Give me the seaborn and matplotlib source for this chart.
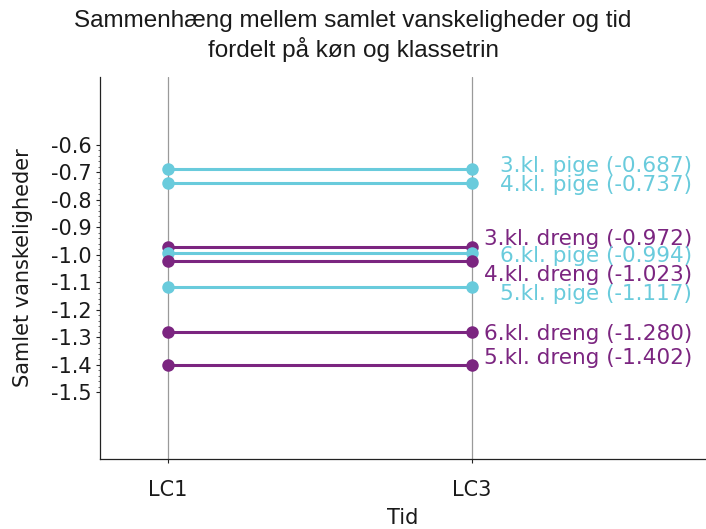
import matplotlib
matplotlib.use("Agg")
import matplotlib.pyplot as plt
import seaborn as sns
import pandas as pd
import numpy as np
from matplotlib.ticker import FixedLocator

groups = ["3.kl. pige", "4.kl. pige", "3.kl. dreng", "6.kl. pige",
          "4.kl. dreng", "5.kl. pige", "6.kl. dreng", "5.kl. dreng"]
gender = ["pige", "pige", "dreng", "pige", "dreng", "pige", "dreng", "dreng"]
lc1 = [-0.687, -0.737, -0.972, -0.994, -1.023, -1.117, -1.280, -1.402]
lc3 = [-0.687, -0.737, -0.972, -0.994, -1.023, -1.117, -1.280, -1.402]
times = ["LC1", "LC3"]
yticks = [-0.6, -0.7, -0.8, -0.9, -1.0, -1.1, -1.2, -1.3, -1.4, -1.5]
# label nudges (pixels, + = down) to avoid overlap
nudge_px = [-3, 2, -8, 3, 14, 7, 2, -7]

colors = {"pige": "#69CBDC", "dreng": "#7B2580"}

rows = []
for g, s, a, b in zip(groups, gender, lc1, lc3):
    rows.append({"Tid": times[0], "value": a, "group": g, "gender": s})
    rows.append({"Tid": times[1], "value": b, "group": g, "gender": s})
df = pd.DataFrame(rows)

sns.set_style("white")
plt.rcParams["font.family"] = ["DejaVu Sans"]

fig = plt.figure(figsize=(7.06, 5.29), dpi=100)
ax = fig.add_axes([100/706, 70/529, 606/706, 382/529])

pal = {g: colors[s] for g, s in zip(groups, gender)}
sns.lineplot(data=df, x="Tid", y="value", hue="group", palette=pal,
             marker="o", markersize=9, markeredgewidth=0, linewidth=2.2,
             legend=False, ax=ax, zorder=3)

ax.set_xlim(-0.224, 1.77)
ax.set_ylim(-1.742, -0.353)
ax.set_yticks(yticks)
ax.set_yticklabels([f"{t:.1f}" for t in yticks])
ax.yaxis.set_minor_locator(FixedLocator(np.round(np.arange(-1.5, -0.599, 0.02), 3)))
ax.tick_params(axis="y", which="major", direction="out", length=3, width=0.8,
               labelsize=15, left=True, pad=3, colors="#222222")
ax.tick_params(axis="y", which="minor", direction="out", length=1.5, width=0.6,
               left=True, colors="#555555")
ax.tick_params(axis="x", which="major", direction="out", length=3, width=0.8,
               labelsize=15, bottom=True, pad=12, colors="#222222")
for t in ax.get_xticklabels() + ax.get_yticklabels():
    t.set_color("#1a1a1a")

ax.grid(False)
for xv in range(len(times)):
    ax.axvline(xv, color="#9a9a9a", lw=0.9, zorder=1)

sns.despine(ax=ax, top=True, right=True)
for sp in ["left", "bottom"]:
    ax.spines[sp].set_color("#222222")
    ax.spines[sp].set_linewidth(0.9)

for g, s, v, n in zip(groups, gender, lc3, nudge_px):
    ax.annotate(f"{g} ({v:.3f})", xy=(1, v), xytext=(220 * 0.72, -n * 0.72),
                textcoords="offset points", ha="right", va="center",
                fontsize=15.5, color=colors[s])

ax.set_xlabel("Tid", fontsize=15, labelpad=6, color="#1a1a1a")
ax.set_ylabel("Samlet vanskeligheder", fontsize=15, labelpad=13, color="#1a1a1a")

fig.suptitle("Sammenhæng mellem samlet vanskeligheder og tid\nfordelt på køn og klassetrin",
             fontsize=17.5, y=0.982, color="#1a1a1a", linespacing=1.25,
             family=["Liberation Sans", "DejaVu Sans"])

fig.savefig("out.png", dpi=100)
